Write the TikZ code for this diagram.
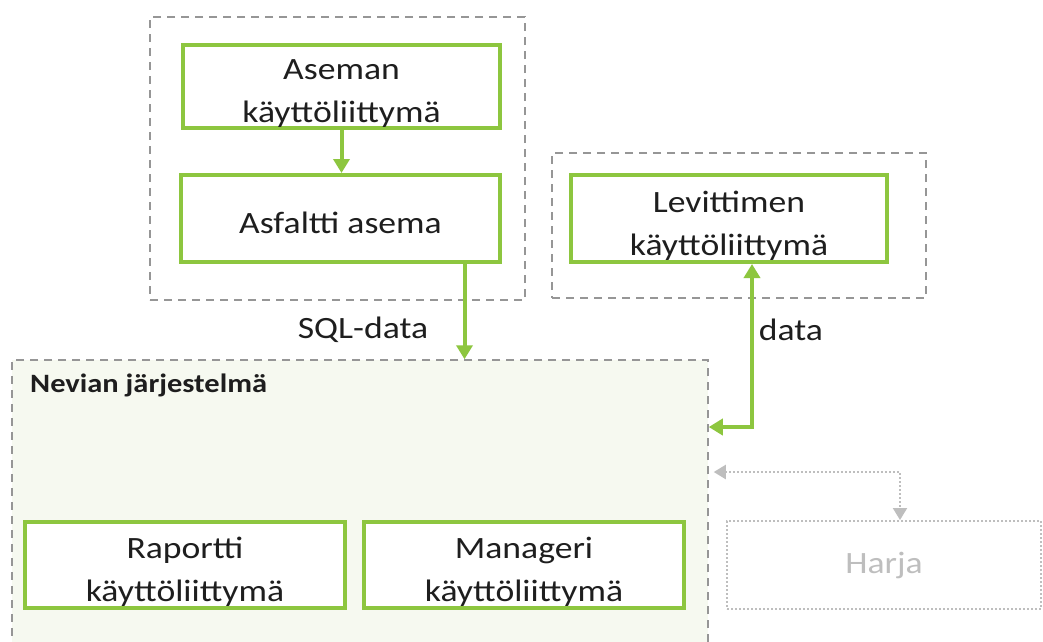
\documentclass[tikz,border=0pt]{standalone}
\usepackage{fontspec}
\setmainfont{Carlito}[FakeStretch=1.15]
\usetikzlibrary{arrows.meta}
\definecolor{lgreen}{RGB}{141,198,63}
\definecolor{dgray}{RGB}{150,150,150}
\definecolor{lgray}{RGB}{190,190,190}
\definecolor{nfill}{RGB}{246,249,240}
\definecolor{txt}{RGB}{30,30,30}
\tikzset{
  group/.style={draw=dgray, line width=1.5pt, dash pattern=on 8pt off 6pt, rectangle},
  gbox/.style={draw=lgreen, line width=4pt, fill=white, rectangle, inner sep=0pt},
  boxtxt/.style={align=center, text=txt, font=\fontsize{31}{43}\selectfont, inner sep=0pt, yshift=-7pt},
  garrow/.style={draw=lgreen, line width=4pt, -{Triangle[width=16pt,length=14pt]}},
  gdarrow/.style={draw=lgreen, line width=4pt, {Triangle[width=16pt,length=14pt]}-{Triangle[width=16pt,length=14pt]}},
  grayarrow/.style={draw=lgray, line width=2pt, dotted, {Triangle[width=14pt,length=12pt]}-{Triangle[width=14pt,length=12pt]}},
  lbl/.style={text=txt, font=\fontsize{31}{44}\selectfont, inner sep=0pt},
}
\begin{document}
\begin{tikzpicture}[x=1pt,y=-1pt]
\clip (0,0) rectangle (1043,641);
\fill[white] (0,0) rectangle (1043,641);
% groups
\node[group, minimum width=375pt, minimum height=283pt] (g1) at (337.5,158.5) {};
\node[group, minimum width=374pt, minimum height=145pt] (g2) at (739,225.5) {};
\node[group, fill=nfill, minimum width=696pt, minimum height=300pt] (nevian) at (360,510) {};
\node[anchor=base west, inner sep=0pt, text=txt, font=\fontsize{26.5}{30}\selectfont\bfseries] (nlabel) at (30,392) {Nevian järjestelmä};
% boxes
\node[gbox, minimum width=317pt, minimum height=83pt, label={[boxtxt]center:Aseman\\käyttöliittymä}] (aseman) at (341.5,86.5) {};
\node[gbox, minimum width=319pt, minimum height=87pt, label={[boxtxt,yshift=3pt]center:Asfaltti asema}] (asfaltti) at (340.5,218.5) {};
\node[gbox, minimum width=316pt, minimum height=87pt, label={[boxtxt]center:Levittimen\\käyttöliittymä}] (levit) at (729,218.5) {};
\node[gbox, minimum width=320pt, minimum height=86pt, label={[boxtxt]center:Raportti\\käyttöliittymä}] (raportti) at (185,565) {};
\node[gbox, minimum width=320pt, minimum height=86pt, label={[boxtxt]center:Manageri\\käyttöliittymä}] (manageri) at (524,565) {};
\node[draw=lgray, line width=2pt, dotted, rectangle, minimum width=314pt, minimum height=88pt,
  text=lgray, font=\fontsize{31}{44}\selectfont, inner sep=0pt] (harja) at (884,565) {Harja};
% labels
\node[lbl] (sql) at (363,330) {SQL-data};
\node[lbl] (datal) at (791,330) {data};
% connectors
\draw[garrow] (aseman.south) -- (aseman.south |- asfaltti.north);
\draw[garrow] ([xshift=124pt]asfaltti.south) -- ([xshift=124pt]asfaltti.south |- nevian.north);
\draw[gdarrow] ([xshift=23pt]levit.south) |- ([yshift=83pt]nevian.east);
\draw[grayarrow] ([xshift=5pt,yshift=38pt]nevian.east) -| ([xshift=16pt]harja.north);
\end{tikzpicture}
\end{document}
